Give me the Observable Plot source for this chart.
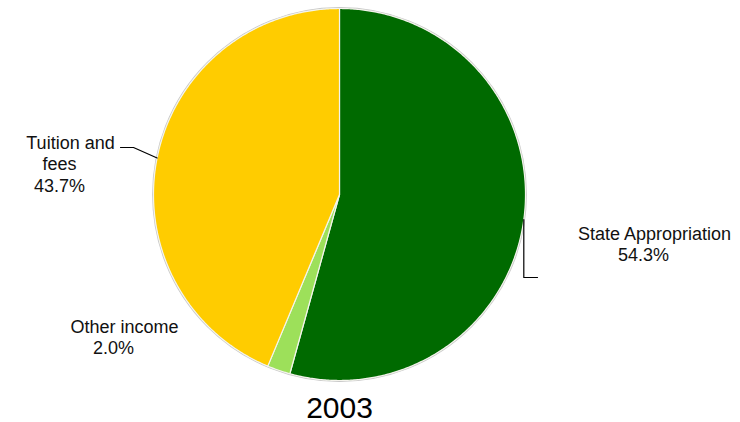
<!DOCTYPE html>
<html>
<head>
<meta charset="utf-8">
<script src="https://cdn.jsdelivr.net/npm/d3@7"></script>
<script src="https://cdn.jsdelivr.net/npm/@observablehq/plot@0.6"></script>
<style>
  html, body { margin: 0; padding: 0; background: #fff; }
  #chart svg { display: block; }
</style>
</head>
<body>
<div id="chart"></div>
<script>
// ---- data ----
const categories = ["State Appropriation", "Other income", "Tuition and fees"];
const shares = [54.3, 2.0, 43.7];
const labelText = [["State Appropriation"], ["Other income"], ["Tuition and", "fees"]];
const pctText = ["54.3%", "2.0%", "43.7%"];
const yearTitle = "2003";

// ---- style / layout ----
const colors = ["#006a00", "#9de05a", "#ffcc00"];
const W = 740, H = 422;
const cx = 339, cy = 194, R = 186;
const font = "Arial, 'Liberation Sans', sans-serif";
const lineH = 21.5;
// first-line centre x and baseline y of each label
const labelPos = [[654, 239], [124, 332], [70, 148]];
// leader line bends (null = no leader)
const leaderBends = [
  (ex, ey) => [[ex, 277], [537, 277]],
  null,
  (ex, ey) => [[133, 147], [120, 147]]
];

// ---- geometry from data ----
const pt = (a, r) => [cx + r * Math.sin(a), cy - r * Math.cos(a)];
const total = d3.sum(shares);
const slicePts = [];
const leaderPts = [];
let acc = 0;
categories.forEach((name, i) => {
  const a0 = acc / total * 2 * Math.PI;
  acc += shares[i];
  const a1 = acc / total * 2 * Math.PI;
  const n = Math.max(2, Math.ceil((a1 - a0) / (Math.PI / 360)));
  slicePts.push({name, x: cx, y: cy});
  for (let k = 0; k <= n; k++) {
    const [x, y] = pt(a0 + (a1 - a0) * k / n, R);
    slicePts.push({name, x, y});
  }
  slicePts.push({name, x: cx, y: cy});
  if (leaderBends[i]) {
    const [ex, ey] = pt((a0 + a1) / 2, R);
    leaderPts.push({name, x: ex, y: ey});
    for (const [x, y] of leaderBends[i](ex, ey)) leaderPts.push({name, x, y});
  }
});

const textRows = [];
categories.forEach((name, i) => {
  const [lx, ly] = labelPos[i];
  const lines = [...labelText[i], pctText[i]];
  lines.forEach((t, j) => {
    textRows.push({text: t, x: j === 0 ? lx : lx - 11, y: ly + j * lineH});
  });
});

const chart = Plot.plot({
  width: W,
  height: H,
  margin: 0,
  x: {domain: [0, W], range: [0, W], axis: null},
  y: {domain: [0, H], range: [0, H], axis: null},
  color: {domain: categories, range: colors},
  style: {fontFamily: font, background: "#fff"},
  marks: [
    Plot.dot([0], {x: () => cx, y: () => cy, r: R + 0.8, fill: "none", stroke: "#c8c8c8", strokeWidth: 1.2}),
    Plot.line(slicePts, {x: "x", y: "y", z: "name", fill: "name", stroke: "#f4f4ec", strokeWidth: 1.2, strokeLinejoin: "round", curve: "linear"}),
    Plot.line(leaderPts, {x: "x", y: "y", z: "name", stroke: "#000", strokeWidth: 1.2, curve: "linear"}),
    Plot.text(textRows, {x: "x", y: "y", text: "text", fontSize: 18, fill: "#111", textAnchor: "middle", lineAnchor: "bottom"}),
    Plot.text([yearTitle], {x: () => cx, y: () => 417, text: d => d, fontSize: 30, fill: "#000", textAnchor: "middle", lineAnchor: "bottom"})
  ]
});
document.getElementById("chart").append(chart);
</script>
</body>
</html>
